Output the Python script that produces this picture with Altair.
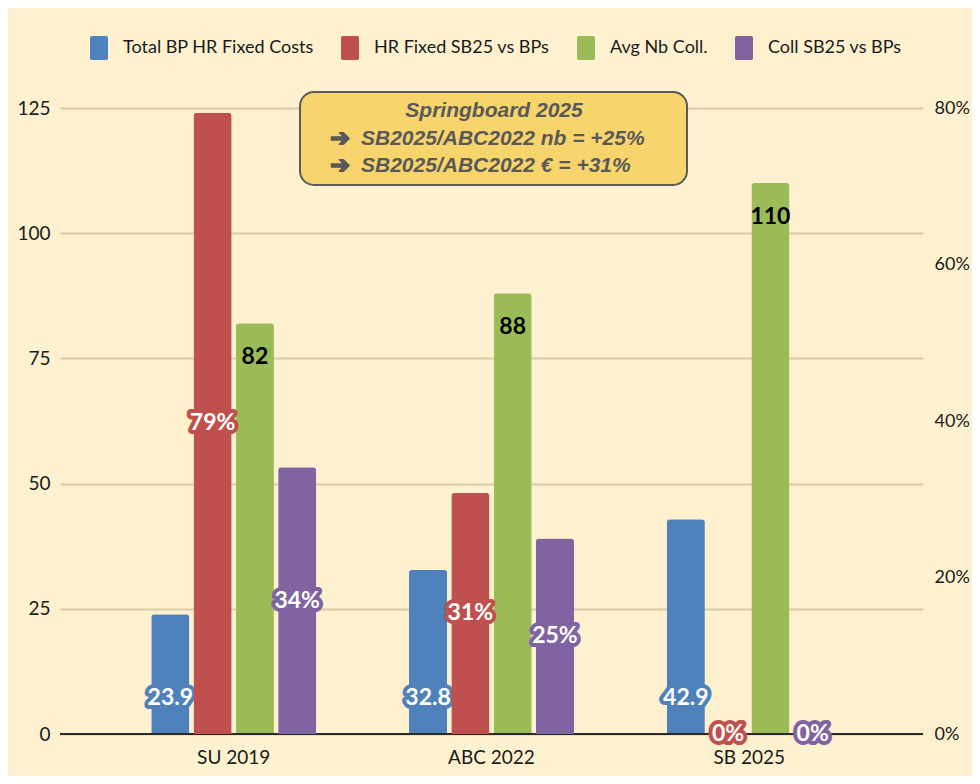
import altair as alt
import pandas as pd

# ---- data ----
categories = ["SU 2019", "ABC 2022", "SB 2025"]
series = ["Total BP HR Fixed Costs", "HR Fixed SB25 vs BPs", "Avg Nb Coll.", "Coll SB25 vs BPs"]
colors = ["#4F81BD", "#C0504D", "#9BBB59", "#8064A2"]
total_bp_costs = [23.9, 32.8, 42.9]          # left axis
hr_fixed_vs_bps = [0.794, 0.308, 0.0]        # right axis (%)
avg_nb_coll = [82, 88, 110]                  # left axis
coll_vs_bps = [0.341, 0.25, 0.0]             # right axis (%)
left_ticks = [0, 25, 50, 75, 100, 125]
right_ticks = [0, 0.2, 0.4, 0.6, 0.8]
box_title = "Springboard 2025"
box_arrow = "➔"
box_lines = ["SB2025/ABC2022 nb = +25%", "SB2025/ABC2022 € = +31%"]

FONT = "Lato, 'Open Sans', sans-serif"
BOXFONT = "'Liberation Sans', Arial, sans-serif"
BG = "#FEF1CF"
TXT = "#1a1a1a"

left_rows = []
for i, c in enumerate(categories):
    left_rows.append({"category": c, "series": series[0], "value": total_bp_costs[i]})
    left_rows.append({"category": c, "series": series[2], "value": avg_nb_coll[i]})
right_rows = []
for i, c in enumerate(categories):
    right_rows.append({"category": c, "series": series[1], "value": hr_fixed_vs_bps[i]})
    right_rows.append({"category": c, "series": series[3], "value": coll_vs_bps[i]})
df_left = pd.DataFrame(left_rows)
df_right = pd.DataFrame(right_rows)

x_enc = alt.X("category:N", sort=categories,
              scale=alt.Scale(domain=categories, paddingInner=0.36, paddingOuter=0.354),
              axis=alt.Axis(title=None, domain=False, ticks=False, labelAngle=0,
                            labelFontSize=19, labelPadding=14, labelColor=TXT,
                            labelFont=FONT))
xo_enc = alt.XOffset("series:N", sort=series,
                     scale=alt.Scale(domain=series, paddingInner=0.1, paddingOuter=0))
SYM = ("M-0.6,-1H0.6Q0.75,-1 0.75,-0.85V0.85Q0.75,1 0.6,1H-0.6Q-0.75,1 -0.75,0.85"
       "V-0.85Q-0.75,-1 -0.6,-1Z")
color_enc = alt.Color("series:N", sort=series,
                      scale=alt.Scale(domain=series, range=colors),
                      legend=alt.Legend(title=None, orient="none", direction="horizontal",
                                        columns=4, legendX=27, legendY=-72,
                                        symbolType=SYM,
                                        symbolSize=576, symbolStrokeWidth=0, symbolOpacity=1,
                                        labelFontSize=18, labelFont=FONT, labelColor=TXT,
                                        labelOffset=12, columnPadding=24, padding=0,
                                        labelLimit=400))
stroke_enc = alt.Stroke("series:N", scale=alt.Scale(domain=series, range=colors), legend=None)

left_scale = alt.Scale(domain=[0, 125], nice=False)
left_axis = alt.Axis(values=left_ticks, title=None, domain=False, ticks=False, grid=True,
                     gridColor="#D8CBA6", gridWidth=2, labelPadding=10, labelFontSize=19,
                     labelFont=FONT, labelColor=TXT, orient="left")
right_scale = alt.Scale(domain=[0, 0.8], nice=False)
right_axis = alt.Axis(values=right_ticks, format=".0%", title=None, domain=False, ticks=False,
                      grid=False, labelPadding=11, labelFontSize=18, labelFont=FONT,
                      labelColor=TXT, orient="right")

LBL = dict(fontSize=23, fontWeight="bold", font=FONT, baseline="middle")

# ---- left (values) layer ----
lbase = alt.Chart(df_left)
left_bars = lbase.mark_bar(cornerRadiusTopLeft=3, cornerRadiusTopRight=3).encode(
    x=x_enc, xOffset=xo_enc, color=color_enc,
    y=alt.Y("value:Q", scale=left_scale, axis=left_axis))

zero_rule = alt.Chart(pd.DataFrame({"z": [0]})).mark_rule(color="#2b2b2b", strokeWidth=2).encode(
    y=alt.Y("z:Q", scale=left_scale, axis=left_axis))

blue_src = lbase.transform_filter(alt.datum.series == series[0]).transform_calculate(base="0")
blue_halo = blue_src.mark_text(dy=-36, strokeWidth=8, strokeJoin="round", fill=colors[0],
                               **LBL).encode(
    x=x_enc, xOffset=xo_enc, y=alt.Y("base:Q", scale=left_scale, axis=left_axis),
    stroke=stroke_enc, text=alt.Text("value:Q", format=".1f"))
blue_text = blue_src.mark_text(dy=-36, color="white", **LBL).encode(
    x=x_enc, xOffset=xo_enc, y=alt.Y("base:Q", scale=left_scale, axis=left_axis),
    text=alt.Text("value:Q", format=".1f"))
green_text = lbase.transform_filter(alt.datum.series == series[2]).mark_text(
    dy=34, color="black", **LBL).encode(
    x=x_enc, xOffset=xo_enc, y=alt.Y("value:Q", scale=left_scale, axis=left_axis),
    text=alt.Text("value:Q", format=".0f"))

left = alt.layer(left_bars, zero_rule, blue_halo, blue_text, green_text)

# ---- right (percent) layer ----
rbase = alt.Chart(df_right)
right_bars = rbase.mark_bar(cornerRadiusTopLeft=3, cornerRadiusTopRight=3).encode(
    x=x_enc, xOffset=xo_enc, color=color_enc,
    y=alt.Y("value:Q", scale=right_scale, axis=right_axis))
mid_src = rbase.transform_calculate(mid="datum.value / 2")
pct_halo = mid_src.mark_text(strokeWidth=8, strokeJoin="round", fill="white", **LBL).encode(
    x=x_enc, xOffset=xo_enc, y=alt.Y("mid:Q", scale=right_scale, axis=right_axis),
    stroke=stroke_enc, text=alt.Text("value:Q", format=".0%"))
pct_text = mid_src.mark_text(color="white", **LBL).encode(
    x=x_enc, xOffset=xo_enc, y=alt.Y("mid:Q", scale=right_scale, axis=right_axis),
    text=alt.Text("value:Q", format=".0%"))

right = alt.layer(right_bars, pct_halo, pct_text)

# ---- annotation box ----
BOX = dict(fontSize=21, fontWeight="bold", fontStyle="italic", font=BOXFONT, color="#595959",
           baseline="middle")
box = alt.Chart(pd.DataFrame({"t": [box_title]})).mark_rect(
    cornerRadius=14, fill="#F7D46C", stroke="#5A5A5A", strokeWidth=2).encode(
    x=alt.value(240), x2=alt.value(627), y=alt.value(-16), y2=alt.value(77))
box_t0 = alt.Chart(pd.DataFrame({"t": [box_title]})).mark_text(align="center", **BOX).encode(
    x=alt.value(434), y=alt.value(3), text="t:N")
box_arrows = alt.Chart(pd.DataFrame({"t": [box_arrow, box_arrow], "row": [31, 58]})).mark_text(
    align="left", fontSize=24, fontWeight="bold", font="'DejaVu Sans', sans-serif",
    fill="#595959", stroke="#595959", strokeWidth=1.6, strokeJoin="round",
    baseline="middle").encode(
    x=alt.value(270), y=alt.Y("row:Q", scale=None), text="t:N")
box_t1 = alt.Chart(pd.DataFrame({"t": [box_lines[0]]})).mark_text(align="left", **BOX).encode(
    x=alt.value(301), y=alt.value(31), text="t:N")
box_t2 = alt.Chart(pd.DataFrame({"t": [box_lines[1]]})).mark_text(align="left", **BOX).encode(
    x=alt.value(301), y=alt.value(58), text="t:N")

chart = alt.layer(left, right, box, box_t0, box_arrows, box_t1, box_t2).resolve_scale(
    y="independent"
).properties(
    width=863, height=626, background=BG,
    autosize=alt.AutoSizeParams(type="none"),
    padding={"left": 52, "top": 100, "right": 49, "bottom": 42},
).configure_view(stroke=None)

chart.save("out.html", embed_options={"renderer": "svg", "actions": False})
